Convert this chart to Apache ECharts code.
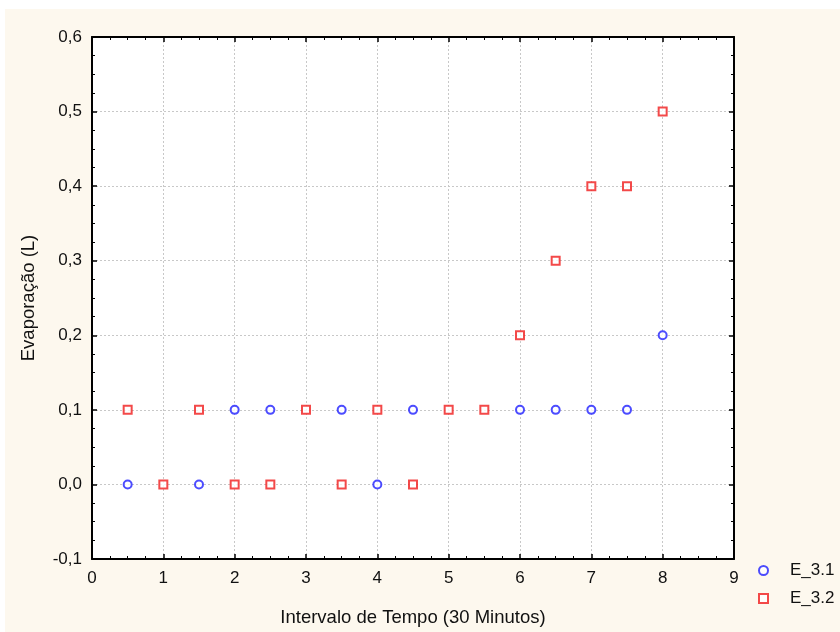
<!DOCTYPE html>
<html>
<head>
<meta charset="utf-8">
<script src="https://cdn.jsdelivr.net/npm/echarts@6/dist/echarts.min.js"></script>
<style>
  html, body { margin: 0; padding: 0; background: #fff; }
  #chart { width: 840px; height: 632px; }
</style>
</head>
<body>
<div id="chart"></div>
<script>
// data
const e31X = [0.5, 1.5, 2, 2.5, 3.5, 4, 4.5, 6, 6.5, 7, 7.5, 8];
const e31Y = [0.0, 0.0, 0.1, 0.1, 0.1, 0.0, 0.1, 0.1, 0.1, 0.1, 0.1, 0.2];
const e32X = [0.5, 1, 1.5, 2, 2.5, 3, 3.5, 4, 4.5, 5, 5.5, 6, 6.5, 7, 7.5, 8];
const e32Y = [0.1, 0.0, 0.1, 0.0, 0.0, 0.1, 0.0, 0.1, 0.0, 0.1, 0.1, 0.2, 0.3, 0.4, 0.4, 0.5];

const font = '"Liberation Sans", Arial, sans-serif';
const textColor = '#111';
const fontSize = 17;
const nameSize = 18.5;

function fmt(v) {
    return v.toFixed(1).replace('.', ',');
}

function pairs(xs, ys) {
    return xs.map((x, i) => [x, ys[i]]);
}

const tickStyle = { show: true, inside: true, length: 5, lineStyle: { color: '#000', width: 1.5 } };
const minorStyle = { show: true, splitNumber: 4, length: 3, lineStyle: { color: '#000', width: 1 } };
const lineStyle = { show: true, onZero: false, lineStyle: { color: '#000', width: 2 } };
const gridLines = { show: true, lineStyle: { color: '#c8c8c8', type: [2, 2], width: 1 } };

const chart = echarts.init(document.getElementById('chart'));

chart.setOption({
    animation: false,
    backgroundColor: '#fff',
    textStyle: { fontFamily: font },
    graphic: [{
        type: 'rect',
        z: -10,
        shape: { x: 5, y: 9, width: 835, height: 623 },
        style: { fill: '#fdf8ee' },
        silent: true
    }],
    grid: {
        left: 92, right: 106, top: 37, bottom: 72,
        show: true, backgroundColor: '#fff', borderColor: '#000', borderWidth: 0
    },
    legend: {
        orient: 'vertical',
        left: 753, top: 557,
        itemWidth: 9, itemHeight: 9, itemGap: 11,
        textStyle: { fontFamily: font, fontSize: fontSize, color: textColor, padding: [0, 0, 0, 17] },
        data: [
            { name: 'E_3.1', icon: 'emptyCircle' },
            { name: 'E_3.2', icon: 'emptyRect' }
        ]
    },
    xAxis: [{
        type: 'value', min: 0, max: 9, interval: 1,
        name: 'Intervalo de Tempo (30 Minutos)',
        nameLocation: 'middle', nameGap: 49,
        nameTextStyle: { fontFamily: font, fontSize: nameSize, color: textColor },
        axisLine: lineStyle, axisTick: tickStyle, minorTick: minorStyle,
        splitLine: gridLines,
        axisLabel: { fontFamily: font, fontSize: fontSize, color: textColor, margin: 11 }
    }, {
        type: 'value', min: 0, max: 9, interval: 1, position: 'top',
        axisLine: lineStyle, axisTick: tickStyle, minorTick: minorStyle,
        splitLine: { show: false }, axisLabel: { show: false }
    }],
    yAxis: [{
        type: 'value', min: -0.1, max: 0.6, interval: 0.1,
        name: 'Evaporação (L)',
        nameLocation: 'middle', nameGap: 54,
        nameTextStyle: { fontFamily: font, fontSize: nameSize, color: textColor },
        axisLine: lineStyle, axisTick: tickStyle, minorTick: minorStyle,
        splitLine: gridLines,
        axisLabel: { fontFamily: font, fontSize: fontSize, color: textColor, margin: 10, formatter: fmt }
    }, {
        type: 'value', min: -0.1, max: 0.6, interval: 0.1, position: 'right',
        axisLine: lineStyle, axisTick: tickStyle, minorTick: minorStyle,
        splitLine: { show: false }, axisLabel: { show: false }
    }],
    series: [{
        name: 'E_3.1',
        type: 'scatter',
        symbol: 'emptyCircle',
        symbolSize: 8,
        itemStyle: { color: '#1f1fff', borderWidth: 1.5 },
        data: pairs(e31X, e31Y)
    }, {
        name: 'E_3.2',
        type: 'scatter',
        symbol: 'emptyRect',
        symbolSize: 8,
        itemStyle: { color: '#f01c1c', borderWidth: 1.5 },
        data: pairs(e32X, e32Y)
    }]
});
</script>
</body>
</html>
